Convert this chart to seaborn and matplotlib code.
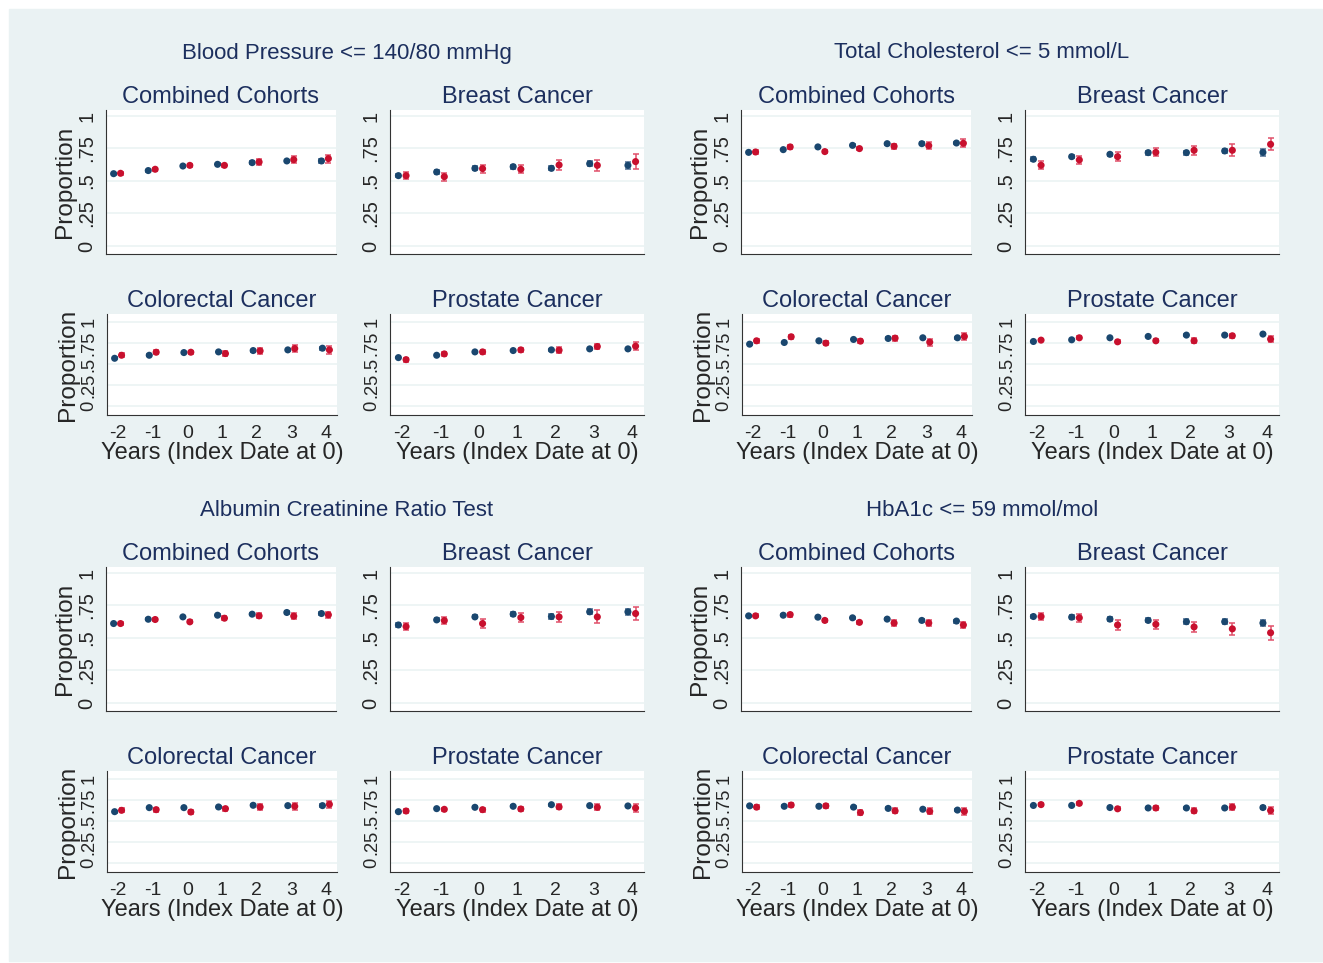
import numpy as np
import pandas as pd
import matplotlib
matplotlib.use("Agg")
import matplotlib.pyplot as plt
import seaborn as sns

years = [-2, -1, 0, 1, 2, 3, 4]
cohorts = ["Combined Cohorts", "Breast Cancer", "Colorectal Cancer", "Prostate Cancer"]
measures = ["Blood Pressure <= 140/80 mmHg", "Total Cholesterol <= 5 mmol/L",
            "Albumin Creatinine Ratio Test", "HbA1c <= 59 mmol/mol"]
groups = ["navy", "red"]

# point estimates, one row per cohort (combined, breast, colorectal, prostate)
bp_navy = [[0.556, 0.580, 0.615, 0.628, 0.641, 0.654, 0.654],
           [0.541, 0.569, 0.597, 0.610, 0.597, 0.633, 0.620],
           [0.568, 0.604, 0.636, 0.644, 0.660, 0.668, 0.688],
           [0.576, 0.604, 0.644, 0.660, 0.668, 0.680, 0.680]]
bp_red = [[0.559, 0.590, 0.620, 0.620, 0.646, 0.664, 0.672],
          [0.541, 0.533, 0.595, 0.590, 0.623, 0.620, 0.649],
          [0.604, 0.640, 0.640, 0.624, 0.656, 0.684, 0.668],
          [0.552, 0.620, 0.644, 0.668, 0.664, 0.708, 0.712]]
chol_navy = [[0.720, 0.741, 0.762, 0.774, 0.787, 0.787, 0.792],
             [0.667, 0.687, 0.705, 0.718, 0.718, 0.731, 0.720],
             [0.736, 0.756, 0.776, 0.792, 0.804, 0.812, 0.812],
             [0.768, 0.788, 0.812, 0.828, 0.844, 0.844, 0.856]]
chol_red = [[0.723, 0.762, 0.726, 0.749, 0.767, 0.772, 0.790],
            [0.621, 0.662, 0.687, 0.720, 0.736, 0.736, 0.782],
            [0.776, 0.824, 0.748, 0.772, 0.808, 0.760, 0.828],
            [0.784, 0.812, 0.764, 0.776, 0.776, 0.836, 0.796]]
acr_navy = [[0.611, 0.644, 0.662, 0.675, 0.683, 0.696, 0.688],
            [0.600, 0.639, 0.662, 0.683, 0.665, 0.701, 0.701],
            [0.611, 0.659, 0.659, 0.667, 0.687, 0.683, 0.683],
            [0.611, 0.647, 0.663, 0.675, 0.694, 0.683, 0.679]]
acr_red = [[0.611, 0.642, 0.624, 0.652, 0.670, 0.668, 0.678],
           [0.588, 0.634, 0.611, 0.657, 0.662, 0.662, 0.688],
           [0.627, 0.635, 0.607, 0.647, 0.667, 0.675, 0.698],
           [0.619, 0.639, 0.635, 0.643, 0.667, 0.663, 0.655]]
hba_navy = [[0.670, 0.675, 0.660, 0.655, 0.645, 0.635, 0.630],
            [0.665, 0.660, 0.645, 0.635, 0.625, 0.625, 0.615],
            [0.680, 0.675, 0.675, 0.665, 0.650, 0.640, 0.630],
            [0.685, 0.685, 0.660, 0.655, 0.655, 0.655, 0.660]]
hba_red = [[0.670, 0.680, 0.635, 0.620, 0.615, 0.615, 0.600],
           [0.665, 0.655, 0.600, 0.605, 0.585, 0.570, 0.540],
           [0.665, 0.690, 0.680, 0.600, 0.620, 0.615, 0.615],
           [0.695, 0.710, 0.645, 0.655, 0.620, 0.665, 0.625]]

# half widths of the confidence intervals
bp_navy_ci = [[0.008, 0.008, 0.008, 0.008, 0.009, 0.010, 0.012],
              [0.010, 0.015, 0.015, 0.015, 0.015, 0.020, 0.025],
              [0.010, 0.010, 0.010, 0.012, 0.012, 0.015, 0.018],
              [0.008, 0.008, 0.010, 0.010, 0.010, 0.012, 0.015]]
bp_red_ci = [[0.010, 0.012, 0.012, 0.012, 0.020, 0.025, 0.030],
             [0.027, 0.030, 0.030, 0.030, 0.040, 0.045, 0.055],
             [0.025, 0.025, 0.020, 0.030, 0.035, 0.040, 0.045],
             [0.025, 0.020, 0.020, 0.020, 0.035, 0.035, 0.045]]
chol_navy_ci = [[0.006, 0.006, 0.006, 0.008, 0.008, 0.009, 0.010],
                [0.015, 0.012, 0.010, 0.015, 0.015, 0.018, 0.025],
                [0.010, 0.010, 0.010, 0.010, 0.012, 0.012, 0.015],
                [0.008, 0.008, 0.008, 0.010, 0.010, 0.012, 0.012]]
chol_red_ci = [[0.012, 0.015, 0.012, 0.012, 0.020, 0.025, 0.030],
               [0.030, 0.030, 0.035, 0.030, 0.035, 0.045, 0.045],
               [0.025, 0.025, 0.025, 0.025, 0.030, 0.040, 0.040],
               [0.015, 0.020, 0.020, 0.020, 0.030, 0.025, 0.040]]
acr_navy_ci = [[0.006, 0.008, 0.008, 0.008, 0.010, 0.012, 0.012],
               [0.015, 0.012, 0.012, 0.015, 0.018, 0.020, 0.025],
               [0.010, 0.010, 0.010, 0.010, 0.012, 0.012, 0.015],
               [0.008, 0.010, 0.010, 0.010, 0.010, 0.012, 0.015]]
acr_red_ci = [[0.012, 0.015, 0.012, 0.015, 0.020, 0.025, 0.025],
              [0.030, 0.030, 0.035, 0.035, 0.040, 0.050, 0.050],
              [0.025, 0.025, 0.025, 0.025, 0.040, 0.040, 0.045],
              [0.025, 0.020, 0.025, 0.025, 0.030, 0.035, 0.045]]
hba_navy_ci = [[0.006, 0.008, 0.008, 0.008, 0.010, 0.012, 0.012],
               [0.015, 0.015, 0.015, 0.015, 0.018, 0.020, 0.025],
               [0.010, 0.010, 0.010, 0.010, 0.012, 0.012, 0.015],
               [0.008, 0.008, 0.010, 0.010, 0.010, 0.012, 0.015]]
hba_red_ci = [[0.012, 0.015, 0.012, 0.012, 0.020, 0.025, 0.025],
              [0.030, 0.030, 0.035, 0.035, 0.040, 0.045, 0.055],
              [0.025, 0.025, 0.025, 0.025, 0.030, 0.035, 0.040],
              [0.020, 0.020, 0.020, 0.025, 0.030, 0.035, 0.040]]

yticks = [0, 0.25, 0.5, 0.75, 1]
ytick_labels = ["0", ".25", ".5", ".75", "1"]

NAVY = "#1a476f"
RED = "#c8102e"
NAVY_BAR = "#4f6f94"
RED_BAR = "#e0506a"
BG = "#eaf2f3"
TITLE = "#1c2f5e"

est = {"navy": [bp_navy, chol_navy, acr_navy, hba_navy],
       "red": [bp_red, chol_red, acr_red, hba_red]}
ci = {"navy": [bp_navy_ci, chol_navy_ci, acr_navy_ci, hba_navy_ci],
      "red": [bp_red_ci, chol_red_ci, acr_red_ci, hba_red_ci]}

rows = []
for m, meas in enumerate(measures):
    for c, coh in enumerate(cohorts):
        for g in groups:
            for i, yr in enumerate(years):
                rows.append({"measure": meas, "cohort": coh, "group": g, "year": yr,
                             "est": est[g][m][c][i], "hw": ci[g][m][c][i]})
df = pd.DataFrame(rows)
df["xpos"] = df["year"] + np.where(df["group"] == "navy", -0.1, 0.1)

sns.set_style("white")
plt.rcParams["font.family"] = ["Liberation Sans", "DejaVu Sans"]

W, H = 1323, 963
fig = plt.figure(figsize=(W / 100, H / 100), dpi=100)
fig.patch.set_facecolor("white")
fig.add_artist(plt.Rectangle((9 / W, 2 / H), 1313 / W, 952 / H,
                             transform=fig.transFigure, color=BG, zorder=-10))

# panel boxes in pixels (x0, y0, x1, y1) inside one measure group
panel_px = [(106, 110, 336, 254), (390, 110, 644, 254),
            (107, 314, 337, 415), (390, 314, 644, 415)]
group_off = [(0, 0), (635, 0), (0, 457), (635, 457)]
title_y = [53, 53, 511, 511]


def add_panel(m, c):
    dx, dy = group_off[m]
    x0, y0, x1, y1 = panel_px[c]
    x0, x1, y0, y1 = x0 + dx, x1 + dx, y0 + dy, y1 + dy
    ax = fig.add_axes([x0 / W, 1 - y1 / H, (x1 - x0) / W, (y1 - y0) / H])
    sub = df[(df["measure"] == measures[m]) & (df["cohort"] == cohorts[c])]
    for g, col, bcol in [("navy", NAVY, NAVY_BAR), ("red", RED, RED_BAR)]:
        s = sub[sub["group"] == g]
        ax.errorbar(s["xpos"], s["est"], yerr=s["hw"], fmt="none", ecolor=bcol,
                    elinewidth=1.1, capsize=2.5, capthick=1.1, zorder=2)
    sns.scatterplot(data=sub, x="xpos", y="est", hue="group",
                    palette={"navy": NAVY, "red": RED}, s=26, linewidth=0,
                    legend=False, ax=ax, zorder=3)
    small = c >= 2
    if small:
        ax.set_ylim(-0.107, 1.095)
        ysize = 13.2
    else:
        ax.set_ylim(-0.062, 1.046)
        ysize = 14.5
    ax.set_xlim(-2.32, 4.32)
    ax.set_yticks(yticks)
    ax.set_yticklabels(ytick_labels, rotation=90, va="center", fontsize=ysize)
    ax.set_xticks(years)
    for yv in yticks:
        ax.axhline(yv, color=BG, lw=1.1, zorder=0)
    ax.tick_params(axis="both", direction="out", length=5, width=0.8,
                   color="#333333", pad=2)
    if small:
        ax.set_xticklabels([str(v) for v in years], fontsize=14)
        ax.set_xlabel("Years (Index Date at 0)", fontsize=17, labelpad=0.5)
    else:
        ax.set_xticklabels([])
        ax.set_xlabel("")
    if c in (0, 2):
        ax.set_ylabel("Proportion", fontsize=17.6, labelpad=1)
    else:
        ax.set_ylabel("")
    ax.set_title(cohorts[c], fontsize=17, color=TITLE, pad=5)
    ax.set_facecolor("white")
    sns.despine(ax=ax)
    for sp in ["left", "bottom"]:
        ax.spines[sp].set_color("#333333")
        ax.spines[sp].set_linewidth(0.8)
    return ax


for m in range(4):
    for c in range(4):
        add_panel(m, c)
    dx, dy = group_off[m]
    fig.text((347 + dx) / W, 1 - title_y[m] / H, measures[m], ha="center",
             va="center", fontsize=16, color=TITLE)

fig.savefig("out.png", dpi=100, facecolor=fig.get_facecolor())
